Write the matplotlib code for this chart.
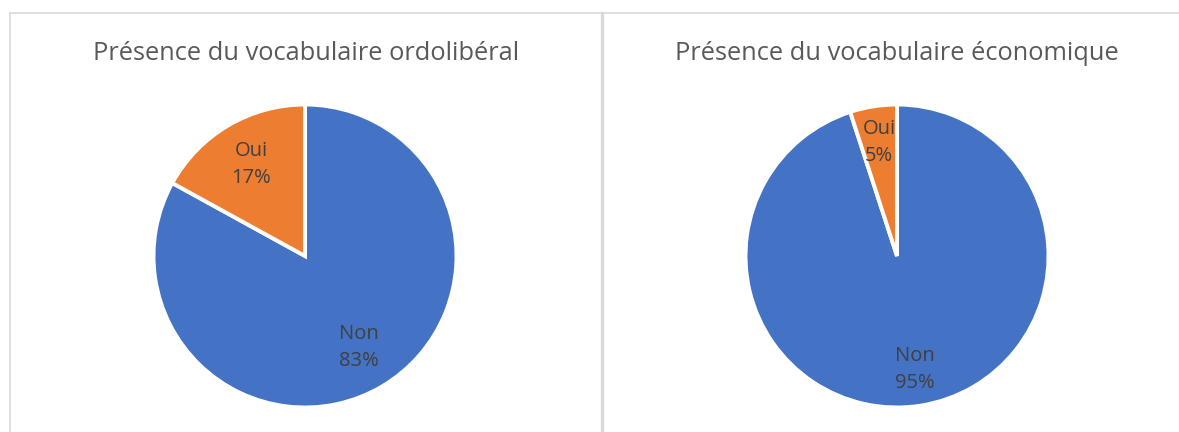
import matplotlib
matplotlib.use("Agg")
import matplotlib.pyplot as plt
from matplotlib.lines import Line2D

W, H = 1179, 432
categories = ["Non", "Oui"]
left_values = [83, 17]
right_values = [95, 5]
titles = ["Présence du vocabulaire ordolibéral", "Présence du vocabulaire économique"]
colors = ["#4472C4", "#ED7D31"]

plt.rcParams['font.family'] = ['Open Sans', 'DejaVu Sans']

fig = plt.figure(figsize=(W / 100, H / 100), dpi=100)

def px_axes(cx, cy, r):
    return fig.add_axes([(cx - r) / W, (H - cy - r) / H, 2 * r / W, 2 * r / H])

def draw(cx, cy, r, values, title, tx, dist):
    ax = px_axes(cx, cy, r)
    labels = [f"{c}\n{v}%" for c, v in zip(categories, values)]
    wedges, texts = ax.pie(values, colors=colors, startangle=90, counterclock=False,
                           labels=labels, labeldistance=dist,
                           wedgeprops=dict(edgecolor='white', linewidth=2.8))
    for t in texts:
        t.set_ha('center'); t.set_va('center')
        t.set_color('#404040'); t.set_fontsize(14.5)
        t.set_linespacing(1.45)
    ax.set_xlim(-1.01, 1.01); ax.set_ylim(-1.01, 1.01)
    ax.set_aspect('equal')
    fig.text(tx / W, 1 - 53 / H, title, ha='center', va='center', fontsize=18.3, color='#595959')

draw(305, 256, 153, left_values, titles[0], 306, 0.70)
draw(897, 256, 153, right_values, titles[1], 897, 0.76)

gray = '#d9d9d9'
fig.add_artist(Line2D([10 / W, 1], [1 - 13 / H, 1 - 13 / H], color=gray, lw=1.2, transform=fig.transFigure))
fig.add_artist(Line2D([10 / W, 10 / W], [0, 1 - 13 / H], color=gray, lw=1.2, transform=fig.transFigure))
fig.add_artist(Line2D([601.5 / W, 601.5 / W], [0, 1 - 13 / H], color=gray, lw=2.4, transform=fig.transFigure))

fig.savefig("out.png", dpi=100, facecolor='white')
